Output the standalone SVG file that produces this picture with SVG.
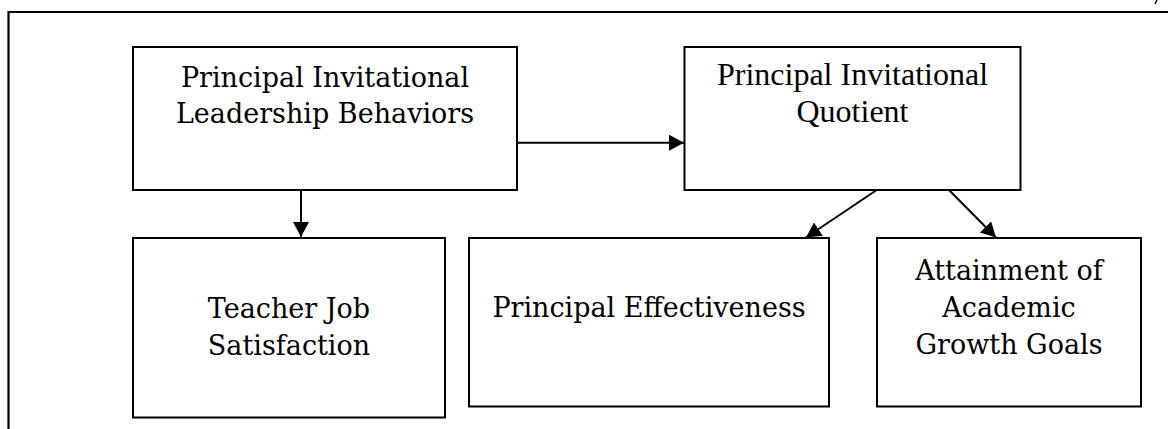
<svg xmlns="http://www.w3.org/2000/svg" width="1168" height="429" viewBox="0 0 1168 429">
<defs>
<style>
.box{fill:#fff;stroke:#000;stroke-width:2}
.frame{fill:none;stroke:#000;stroke-width:2.2}
.edge{fill:none;stroke:#000;stroke-width:2}
.c{font-family:"DejaVu Serif","Liberation Serif",serif;font-size:27px;fill:#000;text-anchor:middle}
.t{font-family:"Liberation Serif","Times New Roman",serif;font-size:32px;fill:#000;text-anchor:middle}
</style>
<marker id="ah" markerWidth="15" markerHeight="16" refX="15" refY="8" orient="auto" markerUnits="userSpaceOnUse">
<path d="M0,0 L15,8 L0,16 Z" fill="#000"/>
</marker>
</defs>
<rect width="1168" height="429" fill="#fff"/>
<path class="frame" d="M8.5,429 V12 H1168"/>
<path d="M1157,0 L1155,4" stroke="#000" stroke-width="1.5"/>
<g id="n1"><rect class="box" x="133" y="47" width="384" height="143"/>
<text class="c" x="325" y="86.5">Principal Invitational</text>
<text class="c" x="325" y="123.3">Leadership Behaviors</text></g>
<g id="n2"><rect class="box" x="684.5" y="47" width="336" height="143"/>
<text class="t" x="852.5" y="85">Principal Invitational</text>
<text class="t" x="852.5" y="122">Quotient</text></g>
<g id="n3"><rect class="box" x="133" y="238" width="312" height="179.5"/>
<text class="c" x="289" y="318">Teacher Job</text>
<text class="c" x="289" y="355.3">Satisfaction</text></g>
<g id="n4"><rect class="box" x="469" y="238" width="360" height="168.5"/>
<text class="c" x="649" y="317.3">Principal Effectiveness</text></g>
<g id="n5"><rect class="box" x="877" y="238" width="264" height="168.5"/>
<text class="c" x="1009" y="280.3">Attainment of</text>
<text class="c" x="1009" y="317">Academic</text>
<text class="c" x="1009" y="354">Growth Goals</text></g>
<g id="edges">
<line class="edge" x1="301" y1="190" x2="301" y2="237" marker-end="url(#ah)"/>
<line class="edge" x1="517" y1="142.7" x2="684" y2="142.7" marker-end="url(#ah)"/>
<line class="edge" x1="876.7" y1="190" x2="806" y2="237.5" marker-end="url(#ah)"/>
<line class="edge" x1="949" y1="190" x2="996" y2="237.5" marker-end="url(#ah)"/>
</g>
</svg>
